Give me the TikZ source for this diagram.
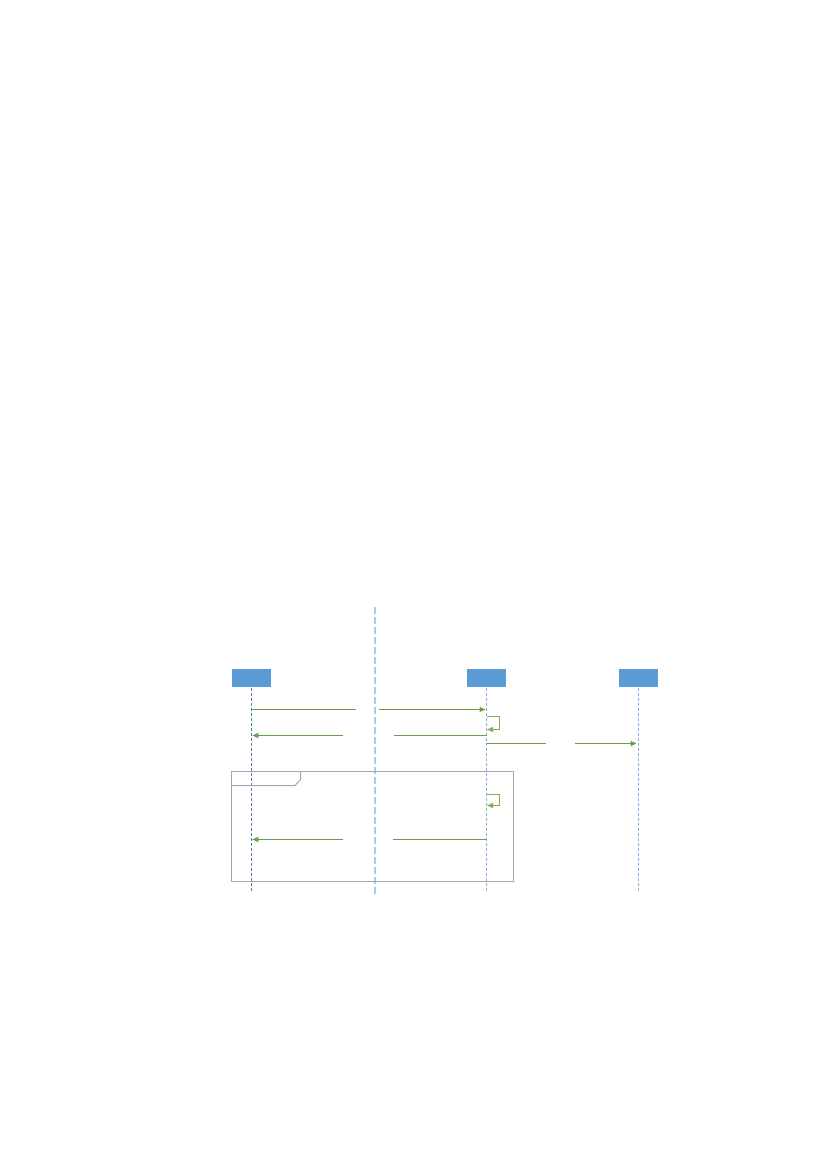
\documentclass[tikz,border=0pt]{standalone}
\usetikzlibrary{arrows.meta}
\definecolor{boxblue}{HTML}{5B9BD5}
\definecolor{lifedark}{HTML}{4A7EBB}
\definecolor{lifelight}{HTML}{7DB3E3}
\definecolor{divblue}{HTML}{A9CBEA}
\definecolor{msggreen}{HTML}{6A9F3F}
\definecolor{selfgreen}{HTML}{7DB356}
\definecolor{framegray}{HTML}{A6A6A6}
\tikzset{
  actor/.style={fill=boxblue, draw=none, minimum width=38.7pt, minimum height=18.3pt, inner sep=0pt},
  lifeline/.style={lifelight, line width=1pt, dash pattern=on 3pt off 2pt},
  lifelinedark/.style={lifedark, line width=1pt, dash pattern=on 3pt off 2pt},
  divider/.style={divblue, line width=2pt, dash pattern=on 7pt off 3pt},
  msg/.style={msggreen, line width=1pt},
  msgarrow/.style={msg, -{Triangle[length=6pt,width=5pt]}},
  selfmsg/.style={selfgreen, line width=1pt, -{Triangle[length=6pt,width=5pt]}},
  framebox/.style={framegray, line width=1pt}
}
\begin{document}
\begin{tikzpicture}[x=1pt,y=-1pt]
\useasboundingbox (0,0) rectangle (827,1169);
% divider
\coordinate (divtop) at (375,607);
\coordinate (divbot) at (375,896);
\draw[divider] (divtop) -- (divbot);
% actors
\node[actor] (a) at (251.5,678.2) {};
\node[actor] (b) at (486.5,678.2) {};
\node[actor] (c) at (638.5,678.2) {};
\coordinate (aend) at (251.5,892);
\coordinate (bend) at (486.5,892);
\coordinate (cend) at (638.5,892);
\draw[lifelinedark] (a.south) -- (aend);
\draw[lifeline] (b.south) -- (bend);
\draw[lifeline] (c.south) -- (cend);
% frame
\coordinate (f1) at (231.5,771.5);
\coordinate (f2) at (513.5,881.5);
\draw[framebox] (f1) rectangle (f2);
\draw[framebox] (231.5,785.5) -- (295,785.5) -- (300.5,779.5) -- (300.5,771.5);
% message 1
\coordinate (m1a) at (251.5,709.5);
\coordinate (m1g1) at (356.3,709.5);
\coordinate (m1g2) at (379.3,709.5);
\coordinate (m1b) at (485.5,709.5);
\draw[msg] (m1a) -- (m1g1);
\draw[msgarrow] (m1g2) -- (m1b);
% self 1
\coordinate (s1a) at (486.5,716.5);
\coordinate (s1b) at (487,729.5);
\draw[selfmsg] (s1a) -- (499.5,716.5) -- (499.5,729.5) -- (s1b);
% message 2 (return)
\coordinate (m2b) at (486.5,735.5);
\coordinate (m2g2) at (394,735.5);
\coordinate (m2g1) at (343,735.5);
\coordinate (m2a) at (252.3,735.5);
\draw[msg] (m2b) -- (m2g2);
\draw[msgarrow] (m2g1) -- (m2a);
% message 3
\coordinate (m3b) at (486.5,743.5);
\coordinate (m3g1) at (545.7,743.5);
\coordinate (m3g2) at (575,743.5);
\coordinate (m3c) at (636.5,743.5);
\draw[msg] (m3b) -- (m3g1);
\draw[msgarrow] (m3g2) -- (m3c);
% self 2
\coordinate (s2a) at (486.5,794.5);
\coordinate (s2b) at (487,805.5);
\draw[selfmsg] (s2a) -- (499.5,794.5) -- (499.5,805.5) -- (s2b);
% message 4 (return)
\coordinate (m4b) at (486.5,839.5);
\coordinate (m4g2) at (393,839.5);
\coordinate (m4g1) at (343,839.5);
\coordinate (m4a) at (252.3,839.5);
\draw[msg] (m4b) -- (m4g2);
\draw[msgarrow] (m4g1) -- (m4a);
\end{tikzpicture}
\end{document}
